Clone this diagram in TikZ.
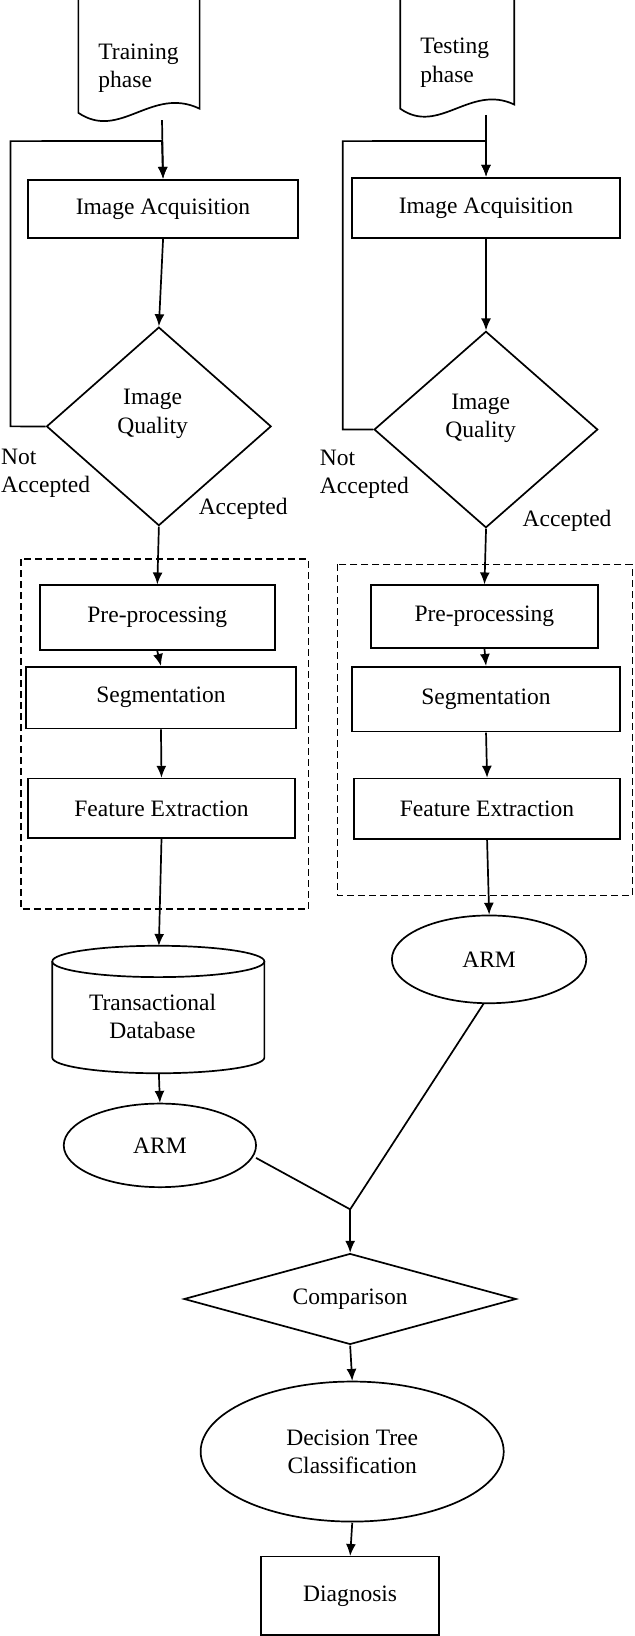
\documentclass[tikz,border=0pt]{standalone}
\usepackage{fontspec}
\setmainfont{Liberation Serif}
\usetikzlibrary{arrows.meta,shapes.geometric}
\begin{document}
\begin{tikzpicture}[x=1pt,y=-1pt,scale=1.045,line width=1.7pt,
  every node/.style={font=\fontsize{22.5}{27}\selectfont,transform shape},
  box/.style={draw,rectangle,inner sep=0pt},
  arr/.style={-{Latex[length=12pt,width=10pt]}},
  dia/.style={draw,diamond,inner sep=0pt},
  ell/.style={draw,ellipse,inner sep=0pt},
  dbox/.style={dash pattern=on 7pt off 4pt,line width=1.5pt}]
\useasboundingbox (0,0) rectangle (606.7,1565.5);
% documents
\draw (75,0) -- (75,108) .. controls (115,135) and (145,82) .. (191,104) -- (191,0);
\draw (383,0) -- (383,104) .. controls (420,130) and (450,80) .. (492,100) -- (492,0);
\node[anchor=west,align=left] (tr) at (90,65) {Training\\phase};
\node[anchor=west,align=left] (te) at (398,60) {Testing\\phase};
\coordinate (d1) at (155,115);
\coordinate (d2) at (465,110);
% image acquisition
\node[box,minimum width=258pt,minimum height=56pt] (ia1) at (156,200) {Image Acquisition};
\node[box,minimum width=256pt,minimum height=58pt] (ia2) at (465,199) {Image Acquisition};
\node[dia,minimum width=215pt,minimum height=190pt] (q1) at (152,408) {};
\node[align=center] at (146,396) {Image\\Quality};
\node[dia,minimum width=214pt,minimum height=188pt] (q2) at (465,411) {};
\node[align=center] at (460,400) {Image\\Quality};
\draw[arr] (d1) -- (ia1.north);
\draw[arr] (d2) -- (ia2.north);
\draw[arr] (ia1.south) -- (q1.north);
\draw[arr] (ia2.south) -- (q2.north);
% loops
\coordinate (l1) at (10,135); \coordinate (l2) at (328,135);
\draw[arr] (q1.west) -- (10,408) -- (l1) -- (155,135) -- (ia1.north);
\draw[arr] (q2.west) -- (328,411) -- (l2) -- (465,135) -- (ia2.north);
\node[anchor=west,align=left] (na1) at (-3,453) {Not\\Accepted};
\node[anchor=west,align=left] (na2) at (302,454) {Not\\Accepted};
\node[anchor=west] (a1) at (186,487) {Accepted};
\node[anchor=west] (a2) at (496,498) {Accepted};
% dashed boxes
\draw[dbox] (20,535) rectangle (295,870);
\draw[dbox] (323,540) rectangle (605,857);
\node[box,minimum width=225pt,minimum height=62pt] (p1) at (150.5,591) {Pre-processing};
\node[box,minimum width=217pt,minimum height=60pt] (p2) at (463.5,590) {Pre-processing};
\node[box,minimum width=258pt,minimum height=59pt] (s1) at (154,667.5) {Segmentation};
\node[box,minimum width=256pt,minimum height=62pt] (s2) at (465,669) {Segmentation};
\node[box,minimum width=255pt,minimum height=57pt] (f1) at (154.5,773.5) {Feature Extraction};
\node[box,minimum width=254pt,minimum height=58pt] (f2) at (466,774) {Feature Extraction};
\draw[arr] (q1.south) -- (p1.north);
\draw[arr] (q2.south) -- (p2.north);
\draw[arr] (p1.south) -- (s1.north);
\draw[arr] (p2.south) -- (s2.north);
\draw[arr] (s1.south) -- (f1.north);
\draw[arr] (s2.south) -- (f2.north);
% cylinder
\draw (50,920) -- (50,1012) arc[start angle=180,end angle=0,x radius=101.5,y radius=15] -- (253,920);
\draw (151.5,920) ellipse[x radius=101.5,y radius=15];
\node[align=center] (db) at (146,973) {Transactional\\Database};
\coordinate (cyt) at (152,905);
\coordinate (cyb) at (152,1027);
\draw[arr] (f1.south) -- (cyt);
\node[ell,minimum width=184pt,minimum height=80pt] (arm1) at (153,1096) {ARM};
\node[ell,minimum width=186pt,minimum height=84pt] (arm2) at (468,918) {ARM};
\draw[arr] (cyb) -- (arm1.north);
\draw[arr] (f2.south) -- (arm2.north);
\coordinate (j) at (335,1157);
\draw (245,1108) -- (j);
\draw (463,960) -- (j);
\node[dia,minimum width=318pt,minimum height=87pt] (cmp) at (335,1243) {};
\node at (335,1243) {Comparison};
\draw[arr] (j) -- (cmp.north);
\node[ell,minimum width=290pt,minimum height=134pt,align=center] (dt) at (337,1389) {Decision Tree\\Classification};
\draw[arr] (cmp.south) -- (dt.north);
\node[box,minimum width=170pt,minimum height=75pt] (dg) at (335,1527) {Diagnosis};
\draw[arr] (dt.south) -- (dg.north);
\end{tikzpicture}
\end{document}
